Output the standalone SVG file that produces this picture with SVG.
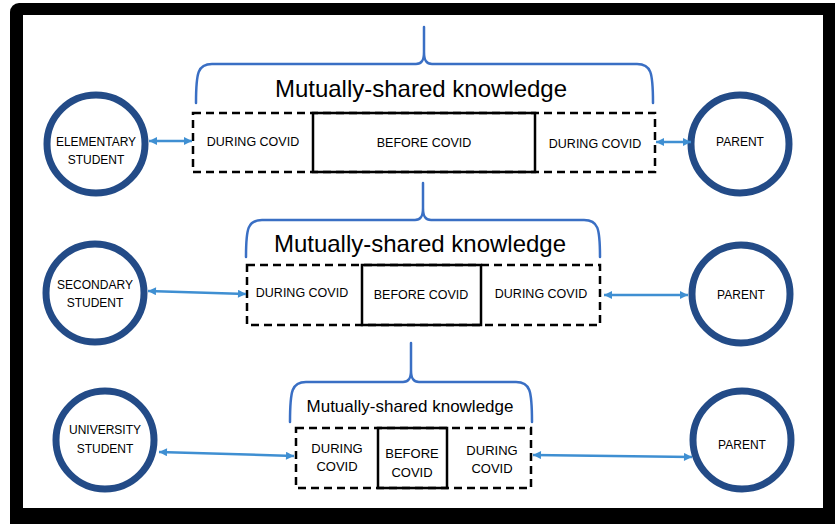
<svg xmlns="http://www.w3.org/2000/svg" width="835" height="524" viewBox="0 0 835 524">
  <defs>
    <marker id="head" viewBox="0 0 10 10" refX="10" refY="5" markerWidth="9" markerHeight="8" markerUnits="userSpaceOnUse" orient="auto-start-reverse">
      <path d="M0,0 L10,5 L0,10 z" fill="#3F8FD2"/>
    </marker>
  </defs>
  <style>
    text { font-family: "Liberation Sans", Arial, sans-serif; fill: #000; text-anchor: middle; }
    .lbl { font-size: 12px; dominant-baseline: central; }
    .box { font-size: 12.5px; dominant-baseline: central; }
    .box3 { font-size: 13px; dominant-baseline: central; }
    .title { font-size: 24px; }
    .title3 { font-size: 17px; }
    .ring { fill: #fff; stroke: #234B87; stroke-width: 7; }
    .dash { fill: none; stroke: #000; stroke-width: 2.5; stroke-dasharray: 8 5; }
    .solid { fill: none; stroke: #000; stroke-width: 2.5; }
    .brace { fill: none; stroke: #3A6FC4; stroke-width: 2.5; stroke-linecap: round; }
    .link { fill: none; stroke: #3F8FD2; stroke-width: 2.5; marker-start: url(#head); marker-end: url(#head); }
  </style>

  <!-- frame -->
  <rect x="10" y="3" width="840" height="540" rx="9" fill="#000"/>
  <rect x="23" y="15" width="800" height="493" fill="#fff"/>

  <!-- row 1 -->
  <g id="elementary-student">
    <circle class="ring" cx="96" cy="144" r="49"/>
    <text class="lbl" x="96" y="142">ELEMENTARY</text>
    <text class="lbl" x="96" y="160">STUDENT</text>
  </g>
  <g id="parent-1">
    <circle class="ring" cx="740" cy="144" r="49"/>
    <text class="lbl" x="740" y="142">PARENT</text>
  </g>
  <g id="knowledge-1">
    <path class="brace" d="M196,103 C196,72 198,64 212,64 L416,64 C422,64 424,60 424,52 L424,27 M424,52 C424,60 426,64 432,64 L637,64 C651,64 653,72 653,103"/>
    <text class="title" x="421" y="97">Mutually-shared knowledge</text>
    <rect class="dash" x="193" y="113" width="462" height="59"/>
    <rect class="solid" x="313" y="113" width="222" height="59"/>
    <text class="box" x="253" y="142">DURING COVID</text>
    <text class="box" x="424" y="143">BEFORE COVID</text>
    <text class="box" x="595" y="144">DURING COVID</text>
  </g>

  <!-- row 2 -->
  <g id="secondary-student">
    <circle class="ring" cx="95" cy="293" r="49"/>
    <text class="lbl" x="95" y="285">SECONDARY</text>
    <text class="lbl" x="95" y="303">STUDENT</text>
  </g>
  <g id="parent-2">
    <circle class="ring" cx="741" cy="294" r="49"/>
    <text class="lbl" x="741" y="295">PARENT</text>
  </g>
  <g id="knowledge-2">
    <path class="brace" d="M246,257 C246,228 248,220 262,220 L415,220 C421,220 423,216 423,208 L423,183 M423,208 C423,216 425,220 431,220 L584,220 C598,220 600,228 600,257"/>
    <text class="title" x="420" y="252">Mutually-shared knowledge</text>
    <rect class="dash" x="247" y="265" width="353" height="60"/>
    <rect class="solid" x="362" y="265" width="119" height="60"/>
    <text class="box" x="302" y="293">DURING COVID</text>
    <text class="box" x="421" y="295">BEFORE COVID</text>
    <text class="box" x="541" y="294">DURING COVID</text>
  </g>

  <!-- row 3 -->
  <g id="university-student">
    <circle class="ring" cx="105" cy="440" r="49"/>
    <text class="lbl" x="105" y="430">UNIVERSITY</text>
    <text class="lbl" x="105" y="449">STUDENT</text>
  </g>
  <g id="parent-3">
    <circle class="ring" cx="742" cy="440" r="49"/>
    <text class="lbl" x="742" y="445">PARENT</text>
  </g>
  <g id="knowledge-3">
    <path class="brace" d="M290,422 C290,390 292,382 306,382 L403,382 C409,382 411,378 411,370 L411,343 M411,370 C411,378 413,382 419,382 L516,382 C530,382 532,390 532,422"/>
    <text class="title3" x="410" y="412">Mutually-shared knowledge</text>
    <rect class="dash" x="296" y="428" width="235" height="60"/>
    <rect class="solid" x="378" y="428" width="69" height="60"/>
    <text class="box3" x="337" y="448">DURING</text>
    <text class="box3" x="337" y="466">COVID</text>
    <text class="box3" x="412" y="453">BEFORE</text>
    <text class="box3" x="412" y="472">COVID</text>
    <text class="box3" x="492" y="450">DURING</text>
    <text class="box3" x="492" y="468">COVID</text>
  </g>

  <!-- connectors -->
  <g id="connectors">
    <line class="link" x1="149" y1="141" x2="192" y2="141"/>
    <line class="link" x1="656" y1="142" x2="691" y2="142"/>
    <line class="link" x1="148" y1="291" x2="246" y2="294"/>
    <line class="link" x1="604" y1="295" x2="688" y2="295"/>
    <line class="link" x1="159" y1="452" x2="294" y2="456"/>
    <line class="link" x1="533" y1="455" x2="692" y2="457"/>
  </g>
</svg>
